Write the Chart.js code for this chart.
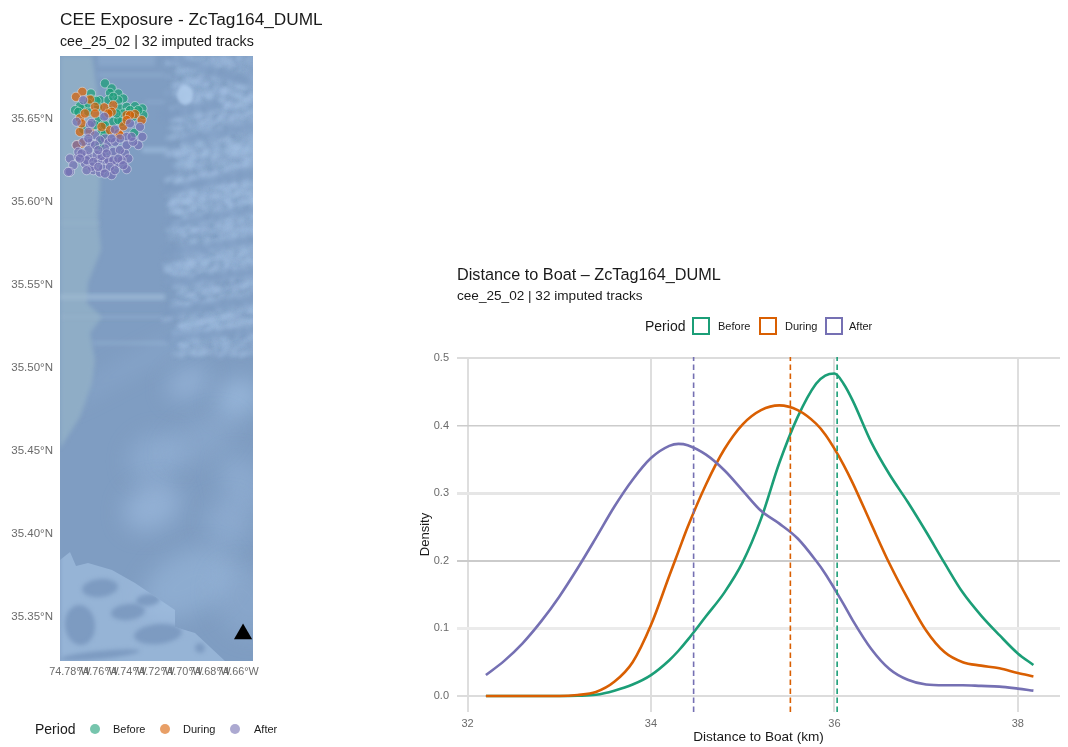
<!DOCTYPE html>
<html>
<head>
<meta charset="utf-8">
<script src="https://cdn.jsdelivr.net/npm/chart.js@4"></script>
<style>
  html, body { margin: 0; padding: 0; background: #fff; width: 1068px; height: 747px; overflow: hidden; }
  body { position: relative; font-family: "Liberation Sans", Arial, sans-serif; color: #1a1a1a; }
  canvas { position: absolute; }
  #map { left: 0; top: 0; }
  #density { left: 410px; top: 250px; }
  .lg, .ttl { position: absolute; white-space: nowrap; transform: translateY(-50%); }
  .lg { font-size: 11px; }
  .lg.head { font-size: 14px; }
  .dot { position: absolute; width: 10px; height: 10px; border-radius: 50%; transform: translateY(-50%); }
  .box { position: absolute; width: 14px; height: 14px; border: 2.5px solid; transform: translateY(-50%); }
</style>
</head>
<body>
<canvas id="map" width="300" height="747"></canvas>
<canvas id="density" width="658" height="497"></canvas>
<div class="ttl" style="left:60px;top:19px;font-size:17.25px">CEE Exposure - ZcTag164_DUML</div>
<div class="ttl" style="left:60px;top:41px;font-size:14.2px">cee_25_02 | 32 imputed tracks</div>
<div class="ttl" style="left:457px;top:274px;font-size:16.25px">Distance to Boat – ZcTag164_DUML</div>
<div class="ttl" style="left:457px;top:295px;font-size:13.6px">cee_25_02 | 32 imputed tracks</div>
<script>
const periods = ['Before', 'During', 'After'];
const periodColors = ['#1B9E77', '#D95F02', '#7570B3'];
const periodFill = ['rgba(27,158,119,0.7)', 'rgba(217,95,2,0.7)', 'rgba(117,112,179,0.7)'];
const legendFill = ['rgba(27,158,119,0.6)', 'rgba(217,95,2,0.6)', 'rgba(117,112,179,0.6)'];

// Map points
const beforeLon = [-74.7550,-74.7502,-74.7514,-74.7650,-74.7455,-74.7419,-74.7455,-74.7586,-74.7526,-74.7705,-74.7729,-74.7764,-74.7645,-74.7669,-74.7443,-74.7395,-74.7336,-74.7283,-74.7276,-74.7336,-74.7395,-74.7598,-74.7491,-74.7431,-74.7574,-74.7550,-74.7586,-74.7574,-74.7341,-74.7455,-74.7419,-74.7705,-74.7621,-74.7562,-74.7514,-74.7371,-74.7598,-74.7467,-74.7312,-74.7669,-74.7491,-74.7550,-74.7610,-74.7348,-74.7740];
const beforeLat = [35.6715,35.6685,35.6658,35.6654,35.6654,35.6624,35.6614,35.6614,35.6614,35.6570,35.6578,35.6554,35.6618,35.6544,35.6564,35.6574,35.6578,35.6564,35.6524,35.6544,35.6538,35.6490,35.6484,35.6484,35.6423,35.6413,35.6343,35.6383,35.6417,35.6494,35.6534,35.6437,35.6464,35.6464,35.6554,35.6554,35.6574,35.6534,35.6554,35.6594,35.6634,35.6464,35.6610,35.6514,35.6544];
const duringLon = [-74.7712,-74.7757,-74.7657,-74.7621,-74.7555,-74.7491,-74.7502,-74.7621,-74.7729,-74.7395,-74.7336,-74.7288,-74.7371,-74.7729,-74.7657,-74.7419,-74.7455,-74.7514,-74.7717,-74.7752,-74.7443,-74.7717,-74.7395,-74.7574,-74.7693,-74.7526];
const duringLat = [35.6664,35.6634,35.6618,35.6574,35.6570,35.6584,35.6544,35.6534,35.6504,35.6524,35.6530,35.6494,35.6524,35.6423,35.6423,35.6457,35.6413,35.6433,35.6353,35.6343,35.6403,35.6474,35.6494,35.6453,35.6534,35.6534];
const afterLon = [-74.7705,-74.7752,-74.7657,-74.7555,-74.7645,-74.7669,-74.7371,-74.7300,-74.7283,-74.7312,-74.7550,-74.7479,-74.7526,-74.7479,-74.7657,-74.7752,-74.7395,-74.7443,-74.7407,-74.7800,-74.7776,-74.7800,-74.7812,-74.7740,-74.7693,-74.7657,-74.7633,-74.7586,-74.7502,-74.7395,-74.7383,-74.7467,-74.7550,-74.7598,-74.7645,-74.7693,-74.7562,-74.7526,-74.7491,-74.7550,-74.7609,-74.7443,-74.7395,-74.7348,-74.7491,-74.7574,-74.7431,-74.7514,-74.7705,-74.7621,-74.7586,-74.7502,-74.7621,-74.7740,-74.7669,-74.7717,-74.7681,-74.7669,-74.7598,-74.7538,-74.7455,-74.7419,-74.7479,-74.7550,-74.7633,-74.7681,-74.7598,-74.7360,-74.7729];
const afterLat = [35.6614,35.6484,35.6464,35.6514,35.6477,35.6423,35.6474,35.6453,35.6393,35.6343,35.6383,35.6437,35.6357,35.6363,35.6357,35.6343,35.6393,35.6383,35.6293,35.6262,35.6222,35.6182,35.6182,35.6273,35.6283,35.6268,35.6192,35.6178,35.6162,35.6198,35.6262,35.6232,35.6252,35.6252,35.6212,35.6232,35.6202,35.6252,35.6303,35.6323,35.6283,35.6313,35.6343,35.6363,35.6252,35.6277,35.6252,35.6212,35.6363,35.6403,35.6373,35.6383,35.6343,35.6303,35.6313,35.6293,35.6252,35.6383,35.6313,35.6293,35.6262,35.6222,35.6192,35.6172,35.6242,35.6192,35.6212,35.6393,35.6262];
const boatLon = [-74.6564];
const boatLat = [35.3398];
const lonTicks = [-74.78,-74.76,-74.74,-74.72,-74.70,-74.68,-74.66];
const latTicks = [35.35,35.40,35.45,35.50,35.55,35.60,35.65];

// Density curves
const distanceKm = [32.2,32.4,32.6,32.8,33.0,33.2,33.4,33.6,33.8,34.0,34.2,34.3,34.4,34.6,34.8,35.0,35.2,35.4,35.6,35.8,35.9,36.0,36.1,36.2,36.4,36.6,36.8,37.0,37.2,37.4,37.6,37.8,38.0,38.17];
const densityBefore = [0,0,0,0,0,0.0005,0.002,0.008,0.017,0.031,0.053,0.067,0.083,0.118,0.153,0.198,0.262,0.345,0.413,0.462,0.474,0.477,0.462,0.437,0.376,0.328,0.287,0.243,0.197,0.153,0.119,0.09,0.063,0.046];
const densityDuring = [0,0,0,0,0,0.0015,0.006,0.021,0.05,0.105,0.178,0.214,0.25,0.313,0.365,0.402,0.423,0.43,0.423,0.403,0.387,0.366,0.342,0.315,0.255,0.196,0.144,0.097,0.065,0.05,0.045,0.041,0.034,0.029];
const densityAfter = [0.031,0.052,0.078,0.11,0.147,0.189,0.234,0.28,0.32,0.352,0.37,0.373,0.371,0.357,0.334,0.304,0.274,0.255,0.233,0.2,0.181,0.159,0.136,0.112,0.07,0.04,0.024,0.017,0.016,0.016,0.015,0.014,0.011,0.008];
const meanDistance = [36.03, 35.52, 34.465];
const kmTicks = [32,34,36,38];
const densityTicks = [0,0.1,0.2,0.3,0.4,0.5];
const hLineColors = ['#dcdcdc','#ebebeb','#cbcbcb','#e6e6e6','#cccccc','#dcdcdc'];
const hLineWidths = [2,3,2,3,1.5,2];

const tickColor = '#6a6a6a';
const fontName = '"Liberation Sans", Arial, sans-serif';

function toPoints(xs, ys) { return xs.map((x, i) => ({ x: x, y: ys[i] })); }

// Bathymetry behind the map, just decoration
const shelfOutline = [[60,56],[92,56],[97,90],[100,183],[98,217],[101,250],[88,283],[87,303],[102,317],[90,333],[95,360],[92,383],[80,417],[61,447],[60,447]];
const roughSouth = [[60,560],[70,552],[76,566],[88,563],[112,570],[135,583],[175,610],[175,627],[195,633],[225,661],[60,661]];
const darkChannels = [[172,58,252,83,9],[165,115,215,105,10],[185,140,253,125,8],[168,190,253,172,9],[168,225,253,210,6],[168,253,253,240,9],[168,283,253,272,8],[168,312,253,300,9],[168,338,253,330,7]];
const combs = [[98,75,165,3,0.3],[145,102,165,3,0.25],[142,150,168,5,0.5],[60,223,100,2,0.18],[60,297,165,5,0.3],[60,317,165,2,0.2],[92,343,168,3,0.3],[98,60,155,12,0.2]];
const softBlobs = [[188,383,22,14,0.45],[238,398,22,18,0.55],[155,457,28,22,0.3],[152,507,30,22,0.45],[242,483,20,30,0.3],[228,523,22,24,0.3],[188,583,50,30,0.35],[200,440,40,20,0.2],[245,600,30,40,0.2],[150,356,110,5,0.3]];

function jitter(i) { const s = Math.sin(i * 12.9898) * 43758.5453; return s - Math.floor(s); }
function trace(ctx, pts) {
  ctx.beginPath();
  pts.forEach((p, i) => i ? ctx.lineTo(p[0], p[1]) : ctx.moveTo(p[0], p[1]));
  ctx.closePath();
}

const mapBackdrop = {
  id: 'mapBackdrop',
  beforeDatasetsDraw(chart) {
    const ctx = chart.ctx, a = chart.chartArea;
    ctx.save();
    ctx.beginPath(); ctx.rect(a.left, a.top, a.width, a.height); ctx.clip();
    ctx.fillStyle = '#7f9dc2';
    ctx.fillRect(a.left, a.top, a.width, a.height);

    ctx.filter = 'blur(11px)';
    softBlobs.forEach(b => {
      ctx.fillStyle = 'rgba(170,200,235,' + b[4] + ')';
      ctx.beginPath(); ctx.ellipse(b[0], b[1], b[2], b[3], -0.5, 0, 7); ctx.fill();
    });
    ctx.filter = 'blur(2px)';
    combs.forEach(c => {
      ctx.fillStyle = 'rgba(175,205,235,' + c[4] + ')';
      ctx.fillRect(c[0], c[1] - c[3] / 2, c[2] - c[0], c[3]);
    });
    ctx.fillStyle = '#8fadc6';
    trace(ctx, shelfOutline); ctx.fill();
    combs.forEach(c => {
      if (c[0] > 90) return;
      ctx.fillStyle = 'rgba(185,210,230,' + c[4] + ')';
      ctx.fillRect(c[0], c[1] - c[3] / 2, c[2] - c[0], c[3]);
    });

    // rough slope in the upper right: soft mottling, cut by dark channels
    ctx.filter = 'blur(2px)';
    let n = 0;
    for (let y = 56; y < 353; y += 5) {
      const start = 164 + jitter(y) * 22;
      for (let x = start; x < 258; x += 5) {
        n++;
        ctx.fillStyle = 'rgba(170,199,233,' + (0.1 + jitter(n) * 0.5) + ')';
        ctx.beginPath();
        ctx.ellipse(x + jitter(n + 3) * 4, y + jitter(n + 5) * 4, 2.5 + jitter(n + 11) * 4, 1.5 + jitter(n + 13) * 2.5, -0.4, 0, 7);
        ctx.fill();
      }
    }
    ctx.filter = 'blur(2.5px)';
    ctx.lineCap = 'round';
    darkChannels.forEach(c => {
      ctx.strokeStyle = 'rgba(124,154,193,0.7)';
      ctx.lineWidth = c[4];
      ctx.beginPath(); ctx.moveTo(c[0], c[1]); ctx.lineTo(c[2], c[3]); ctx.stroke();
    });
    // the knoll near the top
    ctx.filter = 'blur(1.5px)';
    ctx.fillStyle = 'rgba(175,203,235,0.85)';
    ctx.beginPath(); ctx.ellipse(185, 95, 8, 10, 0, 0, 7); ctx.fill();

    // rough patch at the bottom left
    ctx.save();
    trace(ctx, roughSouth); ctx.clip();
    ctx.filter = 'blur(2px)';
    ctx.fillStyle = 'rgba(170,198,232,0.55)';
    ctx.fillRect(60, 550, 170, 115);
    ctx.fillStyle = 'rgba(122,152,191,0.9)';
    [[100,588,18,9],[128,612,17,8],[148,600,12,6],[158,634,24,10],[80,625,15,20],[100,655,40,4],[200,648,5,5]].forEach(e => {
      ctx.beginPath(); ctx.ellipse(e[0], e[1], e[2], e[3], -0.1, 0, 7); ctx.fill();
    });
    ctx.restore();
    ctx.restore();
  }
};

new Chart(document.getElementById('map'), {
  type: 'scatter',
  data: {
    datasets: [
      { label: 'Boat', data: toPoints(boatLon, boatLat), pointStyle: 'triangle', pointRadius: 10.5, backgroundColor: '#000', borderWidth: 0, order: 0 },
      { label: periods[2], data: toPoints(afterLon, afterLat), backgroundColor: periodFill[2], order: 1 },
      { label: periods[1], data: toPoints(duringLon, duringLat), backgroundColor: periodFill[1], order: 2 },
      { label: periods[0], data: toPoints(beforeLon, beforeLat), backgroundColor: periodFill[0], order: 3 }
    ]
  },
  options: {
    responsive: false, animation: false,
    layout: { padding: { top: 56, right: 47 } },
    elements: { point: { radius: 4.6, borderWidth: 0.7, borderColor: 'rgba(240,244,248,0.65)' } },
    plugins: { legend: { display: false }, tooltip: { enabled: false } },
    scales: {
      x: {
        type: 'linear', min: -74.7871, max: -74.6493,
        grid: { display: false, drawTicks: false }, border: { display: false },
        afterBuildTicks: s => { s.ticks = lonTicks.map(v => ({ value: v })); },
        afterFit: s => { s.height = 86; },
        ticks: { autoSkip: false, maxRotation: 0, padding: 5, color: tickColor, font: { family: fontName, size: 10.8 }, callback: v => Math.abs(v).toFixed(2) + '°W' }
      },
      y: {
        type: 'linear', min: 35.3235, max: 35.688,
        grid: { display: false, drawTicks: false }, border: { display: false },
        afterBuildTicks: s => { s.ticks = latTicks.map(v => ({ value: v })); },
        afterFit: s => { s.width = 60; },
        ticks: { padding: 7, color: tickColor, font: { family: fontName, size: 11.5 }, callback: v => v.toFixed(2) + '°N' }
      }
    }
  },
  plugins: [mapBackdrop]
});

const curveSets = [densityAfter, densityDuring, densityBefore];
const densityDatasets = [];
// dashed mean lines sit over the curves
[0, 1, 2].forEach(i => {
  densityDatasets.push({
    label: periods[i] + ' mean',
    data: [{ x: meanDistance[i], y: -0.0236 }, { x: meanDistance[i], y: 0.5015 }],
    borderColor: periodColors[i], borderWidth: 1.6, borderDash: [5.5, 3.5], pointRadius: 0, order: 1
  });
});
[0, 1, 2].forEach(i => {
  densityDatasets.push({
    label: periods[2 - i],
    data: toPoints(distanceKm, curveSets[i]),
    borderColor: periodColors[2 - i], borderWidth: 2.6, pointRadius: 0, cubicInterpolationMode: 'monotone', order: 2 + i
  });
});

new Chart(document.getElementById('density'), {
  type: 'line',
  data: { datasets: densityDatasets },
  options: {
    responsive: false, animation: false,
    layout: { padding: { top: 107, right: 8 } },
    plugins: { legend: { display: false }, tooltip: { enabled: false } },
    scales: {
      x: {
        type: 'linear', min: 31.885, max: 38.46,
        grid: { color: '#dedede', lineWidth: 2, drawTicks: false }, border: { display: false },
        afterBuildTicks: s => { s.ticks = kmTicks.map(v => ({ value: v })); },
        afterFit: s => { s.height = 35; },
        title: { display: true, text: 'Distance to Boat (km)', color: '#1a1a1a', font: { family: fontName, size: 13.6 }, padding: { top: 0, bottom: 2 } },
        ticks: { autoSkip: false, maxRotation: 0, padding: 5, color: tickColor, font: { family: fontName, size: 11 } }
      },
      y: {
        type: 'linear', min: -0.0236, max: 0.5015,
        grid: { color: c => hLineColors[c.index], lineWidth: c => hLineWidths[c.index], drawTicks: false }, border: { display: false },
        afterBuildTicks: s => { s.ticks = densityTicks.map(v => ({ value: v })); },
        afterFit: s => { s.width = 47; },
        title: { display: true, text: 'Density', color: '#1a1a1a', font: { family: fontName, size: 13 }, padding: { top: 8, bottom: 0 } },
        ticks: { padding: 8, color: tickColor, font: { family: fontName, size: 11 }, callback: v => v.toFixed(1) }
      }
    }
  }
});

// Legends sit outside the panels
function addLegend(headX, y, marks, labels, cls) {
  const h = document.createElement('div');
  h.className = 'lg head'; h.textContent = 'Period';
  h.style.left = headX + 'px'; h.style.top = y + 'px';
  document.body.appendChild(h);
  periods.forEach((p, i) => {
    const m = document.createElement('div');
    m.className = cls; m.style.left = marks[i] + 'px'; m.style.top = y + 'px';
    if (cls === 'box') m.style.borderColor = periodColors[i];
    else m.style.background = legendFill[i];
    document.body.appendChild(m);
    const t = document.createElement('div');
    t.className = 'lg'; t.textContent = p;
    t.style.left = labels[i] + 'px'; t.style.top = y + 'px';
    document.body.appendChild(t);
  });
}
addLegend(35, 729, [90, 160, 230], [113, 183, 254], 'dot');
addLegend(645, 326, [692, 759, 825], [718, 785, 849], 'box');
</script>
</body>
</html>
